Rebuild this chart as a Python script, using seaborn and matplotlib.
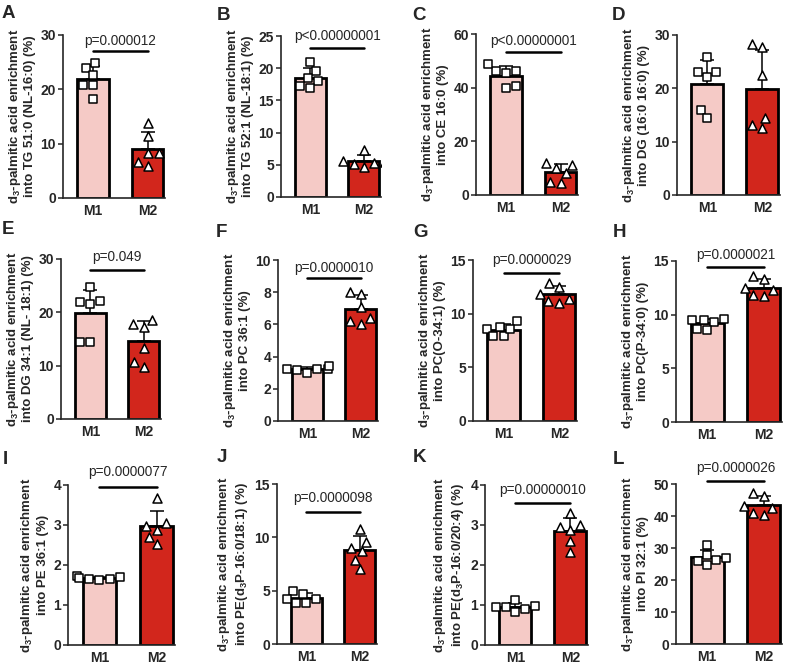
import matplotlib
matplotlib.use("Agg")

import matplotlib.pyplot as plt
import seaborn as sns
import pandas as pd
import numpy as np

grupos = ["M1", "M2"]

# valores (6 animais por grupo)
tg51_m1 = [24.0, 24.8, 22.7, 20.8, 20.8, 18.2]
tg51_m2 = [13.8, 11.5, 8.3, 8.3, 5.8, 6.7]
tg52_m1 = [21.0, 19.5, 18.5, 18.0, 17.3, 17.0]
tg52_m2 = [7.3, 5.6, 5.5, 5.3, 5.2, 4.6]
ce16_m1 = [46.3, 48.8, 46.3, 45.4, 39.8, 40.5]
ce16_m2 = [11.8, 11.2, 10.2, 8.1, 4.6, 5.0]
dg16_m1 = [25.8, 23.1, 23.1, 22.2, 15.9, 14.4]
dg16_m2 = [28.4, 27.8, 22.5, 14.4, 12.5, 13.1]
dg34_m1 = [24.7, 22.1, 22.0, 21.5, 14.4, 14.5]
dg34_m2 = [17.9, 18.6, 17.3, 13.4, 9.8, 10.75]
pc36_m1 = [3.25, 3.2, 3.2, 3.15, 3.4, 3.0]
pc36_m2 = [7.9, 8.0, 7.1, 6.0, 6.4, 6.2]
pco34_m1 = [9.3, 7.9, 8.6, 8.8, 7.9, 8.6]
pco34_m2 = [12.9, 12.5, 11.8, 11.4, 11.2, 11.0]
pcp34_m1 = [9.5, 9.6, 9.5, 9.3, 8.6, 8.7]
pcp34_m2 = [13.3, 13.6, 12.45, 12.3, 11.7, 11.8]
pe36_m1 = [1.65, 1.73, 1.68, 1.62, 1.70, 1.64]
pe36_m2 = [3.67, 2.98, 3.04, 2.88, 2.71, 2.53]
pe18_m1 = [4.7, 5.0, 4.25, 3.84, 3.84, 4.25]
pe18_m2 = [10.8, 9.6, 9.0, 8.7, 7.9, 7.0]
pe20_m1 = [0.9, 0.98, 1.12, 0.96, 0.83, 0.94]
pe20_m2 = [3.29, 2.96, 3.0, 2.88, 2.6, 2.32]
pi32_m1 = [31.0, 27.9, 26.9, 24.8, 26.0, 26.3]
pi32_m2 = [47.2, 46.1, 43.0, 42.5, 40.4, 40.9]

dados = [(tg51_m1, tg51_m2), (tg52_m1, tg52_m2), (ce16_m1, ce16_m2), (dg16_m1, dg16_m2),
         (dg34_m1, dg34_m2), (pc36_m1, pc36_m2), (pco34_m1, pco34_m2), (pcp34_m1, pcp34_m2),
         (pe36_m1, pe36_m2), (pe18_m1, pe18_m2), (pe20_m1, pe20_m2), (pi32_m1, pi32_m2)]

letras = list("ABCDEFGHIJKL")
rotulos = ["into TG 51:0 (NL-16:0) (%)", "into TG 52:1 (NL-18:1) (%)", "into CE 16:0 (%)",
           "into DG (16:0 16:0) (%)", "into DG 34:1 (NL- 18:1) (%)", "into PC 36:1 (%)",
           "into PC(O-34:1) (%)", "into PC(P-34:0) (%)", "into PE 36:1 (%)",
           r"into PE(d$_\mathbf{3}$P-16:0/18:1) (%)", r"into PE(d$_\mathbf{3}$P-16:0/20:4) (%)",
           "into PI 32:1 (%)"]
p_textos = ["p=0.000012", "p<0.00000001", "p<0.00000001", None, "p=0.049", "p=0.0000010",
            "p=0.0000029", "p=0.0000021", "p=0.0000077", "p=0.0000098", "p=0.00000010",
            "p=0.0000026"]
y_max = [30, 25, 60, 30, 30, 10, 15, 15, 4, 15, 4, 50]
y_passo = [10, 5, 20, 10, 10, 2, 5, 5, 1, 5, 1, 10]

# layout (pixels: esquerda, topo, largura, base)
caixas = [(63, 35, 102, 198), (281, 36, 100, 197), (476, 34, 102, 195), (677, 35, 103, 195),
          (61, 259, 100, 419), (278, 260, 100, 421), (473, 260, 104, 421), (676, 261, 106, 422),
          (68, 485, 107, 645), (277, 484, 100, 644), (485, 485, 103, 645), (676, 484, 106, 644)]
pos_letras = [(2, 14), (217, 16), (412, 16), (612, 16), (2, 230), (216, 233), (413, 233), (613, 233),
              (3, 460), (217, 458), (413, 458), (613, 460)]
sig_linha = [0.90, 0.925, 0.89, None, 0.93, 0.89, 0.92, 0.96, 0.99, 0.825, 0.89, 1.02]
sig_texto = [0.965, 1.0, 0.955, None, 1.01, 0.95, 1.0, 1.04, 1.08, 0.91, 0.97, 1.1]

ROSA = "#F5CAC6"
VERMELHO = "#D2261C"
W, H = 791, 664

sns.set_style("ticks")
plt.rcParams["font.family"] = ["Liberation Sans", "DejaVu Sans"]
plt.rcParams["font.weight"] = "bold"
plt.rcParams["axes.labelweight"] = "bold"
plt.rcParams["mathtext.fontset"] = "custom"
plt.rcParams["mathtext.rm"] = "Liberation Sans:bold"
plt.rcParams["mathtext.bf"] = "Liberation Sans:bold"
plt.rcParams["mathtext.it"] = "Liberation Sans:bold:italic"

fig = plt.figure(figsize=(W / 100, H / 100), dpi=100)


def desenhar(ax, m1, m2, ymax, passo, rotulo, p, fl, ft):
    df = pd.DataFrame({"grupo": ["M1"] * len(m1) + ["M2"] * len(m2), "valor": m1 + m2})
    sns.barplot(data=df, x="grupo", y="valor", hue="grupo", order=grupos, hue_order=grupos,
                palette=[ROSA, VERMELHO], saturation=1, errorbar=None, width=0.58,
                edgecolor="black", linewidth=2.0, legend=False, ax=ax, zorder=1)
    resumo = df.groupby("grupo")["valor"].agg(["mean", "std"]).reindex(grupos)
    ax.errorbar(x=[0, 1], y=resumo["mean"], yerr=[np.zeros(2), resumo["std"]], fmt="none",
                ecolor="black", elinewidth=1.1, capsize=5, capthick=1.1, zorder=2)
    sns.swarmplot(data=df[df.grupo == "M1"], x="grupo", y="valor", order=grupos, marker="s",
                  color="white", edgecolor="black", linewidth=1.1, size=6, ax=ax, zorder=4)
    sns.swarmplot(data=df[df.grupo == "M2"], x="grupo", y="valor", order=grupos, marker="^",
                  color="white", edgecolor="black", linewidth=1.1, size=6.5, ax=ax, zorder=4)
    ax.set_xlim(-0.55, 1.32)
    ax.set_ylim(0, ymax)
    ax.set_yticks(np.arange(0, ymax + passo / 2, passo))
    ax.set_xlabel("")
    ax.set_ylabel(r"d$_\mathbf{3}$-palmitic acid enrichment" + "\n" + rotulo,
                  fontsize=9.5, fontweight="bold", labelpad=3)
    for lab in ax.get_xticklabels() + ax.get_yticklabels():
        lab.set_fontweight("bold")
    ax.tick_params(axis="y", length=3.5, width=1.1, labelsize=10, pad=1.5)
    ax.tick_params(axis="x", length=0, labelsize=10, pad=4)
    sns.despine(ax=ax)
    for s in ["left", "bottom"]:
        ax.spines[s].set_linewidth(1.2)
    if p is not None:
        ax.plot([0, 1], [fl * ymax] * 2, color="black", lw=1.8, clip_on=False, zorder=5)
        ax.text(0.5, ft * ymax, p, ha="center", va="center", fontsize=9.8,
                fontweight="normal", clip_on=False)


for i, (m1, m2) in enumerate(dados):
    esq, topo, larg, base = caixas[i]
    ax = fig.add_axes([esq / W, 1 - base / H, larg / W, (base - topo) / H])
    desenhar(ax, m1, m2, y_max[i], y_passo[i], rotulos[i], p_textos[i], sig_linha[i], sig_texto[i])
    lx, ly = pos_letras[i]
    fig.text(lx / W, 1 - ly / H, letras[i], fontsize=13.5, fontweight="bold", ha="left", va="center")

fig.savefig("out.png", dpi=100)
plt.close(fig)
